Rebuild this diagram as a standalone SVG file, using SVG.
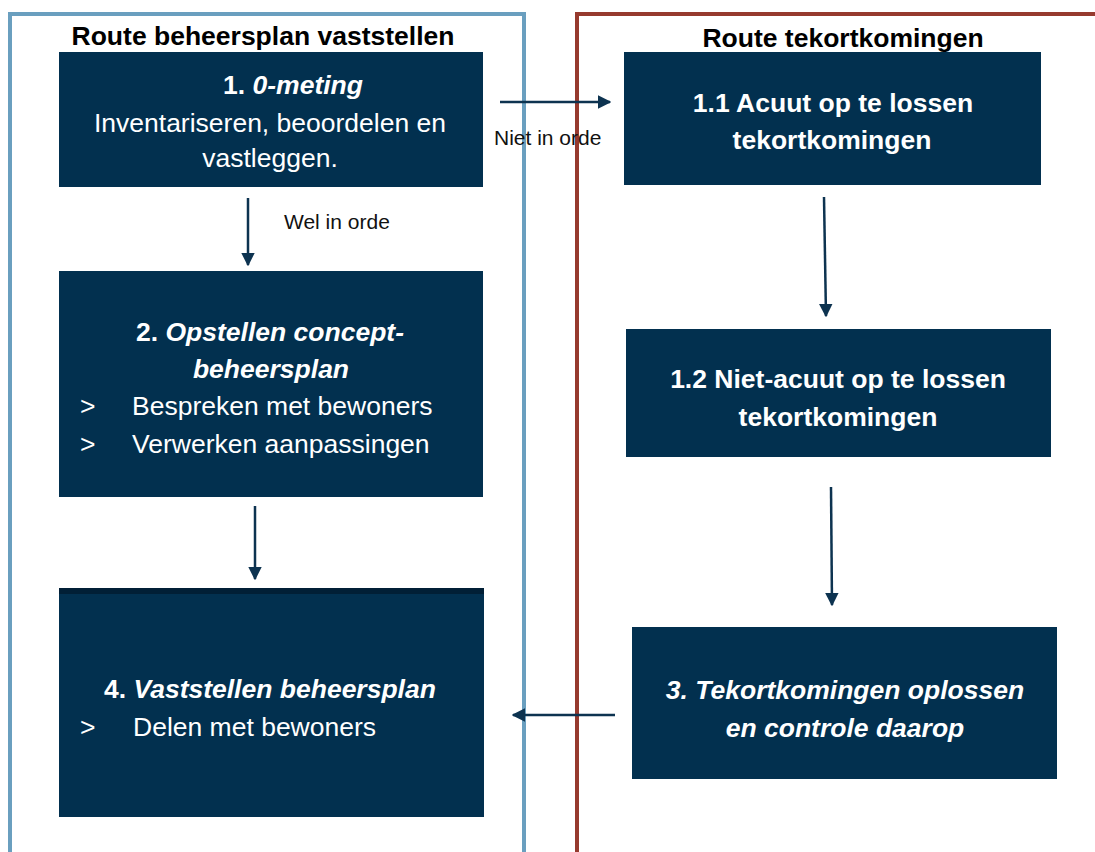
<svg xmlns="http://www.w3.org/2000/svg" width="1095" height="852" viewBox="0 0 1095 852">
<style>
.box{fill:#02304f;}
.t{font-family:"Liberation Sans",Arial,sans-serif;fill:#ffffff;font-size:26.5px;}
.b{font-weight:bold;}
.i{font-style:italic;}
.hd{font-family:"Liberation Sans",Arial,sans-serif;fill:#000;font-size:26.5px;font-weight:bold;text-anchor:middle;}
.lbl{font-family:"Liberation Sans",Arial,sans-serif;fill:#111;font-size:21px;}
.c{stroke:#0d3350;stroke-width:2.5;fill:none;marker-end:url(#ah);}
</style>
<defs>
<marker id="ah" viewBox="0 0 10 10" refX="9" refY="5" markerWidth="5.5" markerHeight="5.5" markerUnits="strokeWidth" orient="auto">
<path d="M0,0 L10,5 L0,10 z" fill="#0d3350"/>
</marker>
</defs>
<rect width="1095" height="852" fill="#fff"/>
<g id="lanes">
<path d="M10,860 V14 H524 V860" fill="none" stroke="#6a9fbf" stroke-width="4"/>
<path d="M577,860 V14 H1100" fill="none" stroke="#963a2e" stroke-width="4"/>
<text class="hd" x="263" y="45">Route beheersplan vaststellen</text>
<text class="hd" x="843" y="47">Route tekortkomingen</text>
</g>
<g id="connectors">
<line class="c" x1="500" y1="102" x2="610" y2="102"/>
<line class="c" x1="248" y1="198" x2="248" y2="265"/>
<line class="c" x1="255" y1="506" x2="255" y2="579"/>
<line class="c" x1="615" y1="715" x2="513" y2="715"/>
<line class="c" x1="824" y1="197" x2="826" y2="316"/>
<line class="c" x1="831" y1="487" x2="832" y2="605"/>
<text class="lbl" x="494" y="145">Niet in orde</text>
<text class="lbl" x="284" y="229">Wel in orde</text>
</g>
<g id="n1">
<rect class="box" x="59" y="52" width="424" height="135"/>
<text class="t b" x="293" y="94" text-anchor="middle">1. <tspan class="i">0-meting</tspan></text>
<text class="t" x="270" y="132" text-anchor="middle">Inventariseren, beoordelen en</text>
<text class="t" x="270" y="167" text-anchor="middle">vastleggen.</text>
</g>
<g id="n2">
<rect class="box" x="59" y="271" width="424" height="226"/>
<text class="t b" x="270" y="341" text-anchor="middle">2. <tspan class="i">Opstellen concept-</tspan></text>
<text class="t b i" x="271" y="378" text-anchor="middle">beheersplan</text>
<text class="t" x="80" y="415">&gt;</text>
<text class="t" x="132" y="415">Bespreken met bewoners</text>
<text class="t" x="80" y="453">&gt;</text>
<text class="t" x="132" y="453">Verwerken aanpassingen</text>
</g>
<g id="n4">
<rect class="box" x="59" y="588" width="425" height="229"/>
<rect x="59" y="588" width="425" height="6" fill="#011f36"/>
<text class="t b" x="104" y="698">4. <tspan class="i">Vaststellen beheersplan</tspan></text>
<text class="t" x="80" y="736">&gt;</text>
<text class="t" x="133" y="736">Delen met bewoners</text>
</g>
<g id="n11">
<rect class="box" x="624" y="52" width="417" height="133"/>
<text class="t b" x="833" y="112" text-anchor="middle">1.1 Acuut op te lossen</text>
<text class="t b" x="832" y="149" text-anchor="middle">tekortkomingen</text>
</g>
<g id="n12">
<rect class="box" x="626" y="329" width="425" height="128"/>
<text class="t b" x="838" y="388" text-anchor="middle">1.2 Niet-acuut op te lossen</text>
<text class="t b" x="838" y="426" text-anchor="middle">tekortkomingen</text>
</g>
<g id="n3">
<rect class="box" x="632" y="627" width="425" height="152"/>
<text class="t b i" x="845" y="699" text-anchor="middle">3. Tekortkomingen oplossen</text>
<text class="t b i" x="845" y="737" text-anchor="middle">en controle daarop</text>
</g>
</svg>
